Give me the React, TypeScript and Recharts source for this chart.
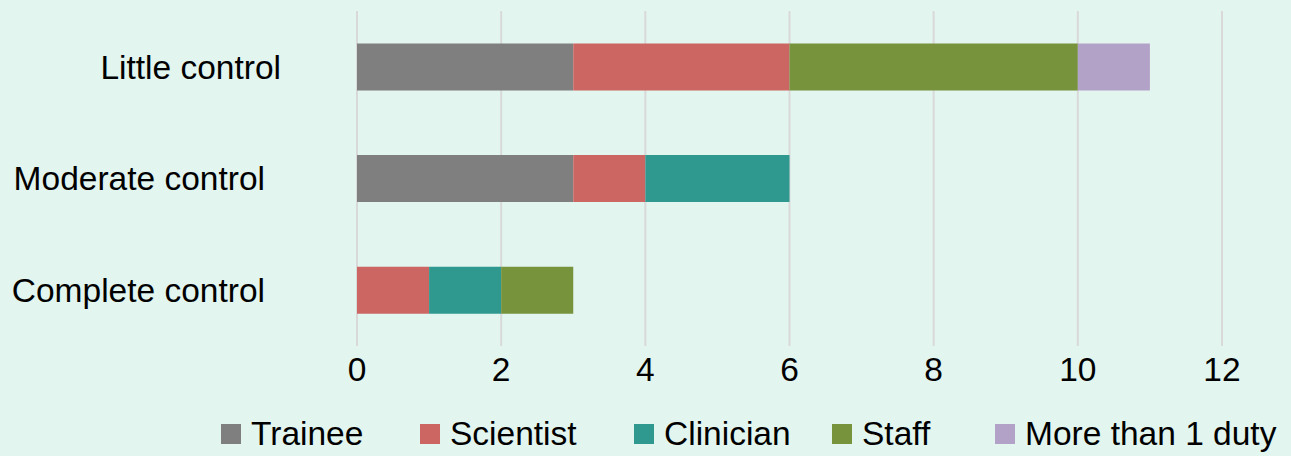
import React from 'react';
import { BarChart, Bar, XAxis, YAxis, CartesianGrid, Legend } from 'recharts';

const categories = ['Little control', 'Moderate control', 'Complete control'];
const trainee = [3, 3, 0];
const scientist = [3, 1, 1];
const clinician = [0, 2, 1];
const staff = [4, 0, 1];
const moreThanOne = [1, 0, 0];
const xTicks = [0, 2, 4, 6, 8, 10, 12];

const seriesList = [
  { key: 'trainee', name: 'Trainee', color: '#7f7f7f', slot: 199 },
  { key: 'scientist', name: 'Scientist', color: '#cc6663', slot: 214 },
  { key: 'clinician', name: 'Clinician', color: '#2f9990', slot: 198 },
  { key: 'staff', name: 'Staff', color: '#77933c', slot: 163 },
  { key: 'more', name: 'More than 1 duty', color: '#b3a2c7', slot: 290 },
];

const data = categories.map((name, i) => ({
  name,
  trainee: trainee[i],
  scientist: scientist[i],
  clinician: clinician[i],
  staff: staff[i],
  more: moreThanOne[i],
}));

const FONT = '"Liberation Sans", Arial, sans-serif';
const FS = 33.5;

// Excel leaves the first label a bit further right than the others
function CategoryTick(props: any) {
  const { y, payload } = props;
  const right = payload.value === 'Little control' ? 281 : 265;
  return (
    <text x={right} y={y} dy="0.35em" textAnchor="end" fontSize={FS} fontFamily={FONT} fill="#000">
      {payload.value}
    </text>
  );
}

function LegendBox() {
  return (
    <div style={{ height: 60, display: 'flex', alignItems: 'center', paddingLeft: 221, paddingTop: 16, boxSizing: 'border-box', fontFamily: FONT, fontSize: FS, color: '#000', whiteSpace: 'nowrap' }}>
      {seriesList.map((s) => (
        <div key={s.key} style={{ display: 'flex', alignItems: 'center', width: s.slot, flexShrink: 0 }}>
          <span style={{ width: 20, height: 20, background: s.color, marginRight: 10, display: 'inline-block', flexShrink: 0 }} />
          <span>{s.name}</span>
        </div>
      ))}
    </div>
  );
}

export default function App() {
  return (
    <div style={{ position: 'absolute', left: 0, top: 0, width: 1291, height: 456, background: '#e2f5ef', overflow: 'hidden' }}>
      <BarChart
        width={1291}
        height={456}
        data={data}
        layout="vertical"
        margin={{ top: 11, right: 69, bottom: 0, left: 0 }}
        barCategoryGap="29%"
      >
        <CartesianGrid horizontal={false} stroke="#d9d9d9" strokeWidth={2} />
        <XAxis
          type="number"
          domain={[0, 12]}
          ticks={xTicks}
          axisLine={false}
          tickLine={false}
          tickMargin={5}
          height={50}
          tick={{ fontSize: FS, fontFamily: FONT, fill: '#000' }}
        />
        <YAxis
          type="category"
          dataKey="name"
          width={357}
          axisLine={false}
          tickLine={false}
          tick={<CategoryTick />}
        />
        <Legend verticalAlign="bottom" content={<LegendBox />} />
        {seriesList.map((s) => (
          <Bar key={s.key} dataKey={s.key} name={s.name} stackId="a" fill={s.color} isAnimationActive={false} />
        ))}
      </BarChart>
    </div>
  );
}
